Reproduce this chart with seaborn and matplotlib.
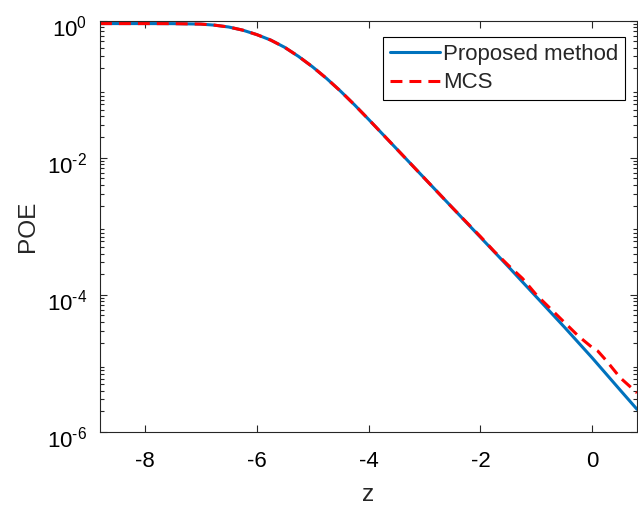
import matplotlib
matplotlib.use("Agg")
import matplotlib.pyplot as plt
import matplotlib.transforms as mtransforms
import numpy as np
import pandas as pd
import seaborn as sns
from matplotlib.ticker import FixedLocator, FixedFormatter, LogLocator, NullFormatter

# Probability of exceedance curves
z_proposed = [-8.8, -8.5, -8.0, -7.5, -7.0, -6.75, -6.5, -6.25, -6.0, -5.75, -5.5,
              -5.25, -5.0, -4.75, -4.5, -4.25, -4.0, -3.5, -3.0, -2.5, -2.0, -1.5,
              -1.0, -0.5, 0.0, 0.5, 0.8]
poe_proposed = [0.902, 0.902, 0.902, 0.900, 0.887, 0.855, 0.804, 0.724, 0.624, 0.519,
                0.407, 0.299, 0.211, 0.143, 0.0933, 0.0589, 0.0363, 0.0135, 5.01e-3,
                1.86e-3, 6.92e-4, 2.57e-4, 9.33e-5, 3.39e-5, 1.20e-5, 4.07e-6, 2.14e-6]

z_mcs = [-8.8, -8.5, -8.0, -7.5, -7.0, -6.75, -6.5, -6.25, -6.0, -5.75, -5.5,
         -5.25, -5.0, -4.75, -4.5, -4.25, -4.0, -3.5, -3.0, -2.5, -2.0, -1.75, -1.5,
         -1.25, -1.0, -0.75, -0.5, -0.25, 0.0, 0.1, 0.25, 0.5, 0.8]
poe_mcs = [0.902, 0.902, 0.902, 0.900, 0.887, 0.855, 0.804, 0.724, 0.624, 0.519,
           0.407, 0.299, 0.211, 0.143, 0.0933, 0.0589, 0.0363, 0.0135, 5.01e-3,
           1.86e-3, 7.08e-4, 4.27e-4, 2.69e-4, 1.74e-4, 1.0e-4, 6.31e-5, 3.98e-5,
           2.51e-5, 1.70e-5, 1.51e-5, 1.10e-5, 6.17e-6, 3.72e-6]

series_names = ["Proposed method", "MCS"]
x_ticks = [-8, -6, -4, -2, 0]
y_ticks = [1e-6, 1e-4, 1e-2, 1e0]
y_tick_labels = [r"$\mathregular{10^{\text{-}6}}$", r"$\mathregular{10^{\text{-}4}}$",
                 r"$\mathregular{10^{\text{-}2}}$", r"$\mathregular{10^{0}}$"]

df = pd.concat([
    pd.DataFrame({"z": z_proposed, "POE": poe_proposed, "method": series_names[0]}),
    pd.DataFrame({"z": z_mcs, "POE": poe_mcs, "method": series_names[1]}),
], ignore_index=True)

sns.set_style("ticks")
plt.rcParams["font.family"] = ["Liberation Sans", "DejaVu Sans"]
plt.rcParams["mathtext.fontset"] = "custom"
plt.rcParams["mathtext.rm"] = "Liberation Sans"
plt.rcParams["axes.unicode_minus"] = False

axis_color = "#262626"
fig = plt.figure(figsize=(6.38, 5.05), dpi=100)
ax = fig.add_axes([0.1567, 0.1446, 0.8418, 0.8148])

sns.lineplot(data=df, x="z", y="POE", hue="method", style="method",
             hue_order=series_names, style_order=series_names,
             palette={series_names[0]: "#0072BD", series_names[1]: "#FF0000"},
             dashes={series_names[0]: "", series_names[1]: (3.9, 2.3)},
             linewidth=2.2, sort=False, estimator=None, ax=ax)

ax.set_yscale("log")
ax.set_xlim(-8.8, 0.8)
ax.set_ylim(1e-6, 1e0)

ax.xaxis.set_major_locator(FixedLocator(x_ticks))
ax.yaxis.set_major_locator(FixedLocator(y_ticks))
ax.yaxis.set_major_formatter(FixedFormatter(y_tick_labels))
ax.yaxis.set_minor_locator(LogLocator(base=10, subs=np.arange(2, 10), numticks=20))
ax.yaxis.set_minor_formatter(NullFormatter())

for side in ["left", "right", "top", "bottom"]:
    ax.spines[side].set_visible(True)
    ax.spines[side].set_color(axis_color)
    ax.spines[side].set_linewidth(0.8)

ax.tick_params(which="both", direction="in", top=True, right=True,
               color=axis_color, width=0.8, labelsize=16, labelcolor="black")
ax.tick_params(which="major", length=5)
ax.tick_params(which="minor", length=3)
ax.tick_params(axis="x", pad=14)
ax.tick_params(axis="y", pad=9)

ax.set_xlabel("z", fontsize=17.6, labelpad=8)
ax.set_ylabel("POE", fontsize=17.6, labelpad=6)

handles, labels = ax.get_legend_handles_labels()
leg = ax.legend(handles, labels, loc="upper right",
                bbox_to_anchor=(625 / 638, 1 - 37.3 / 505),
                bbox_transform=fig.transFigure, borderaxespad=0,
                fontsize=16, frameon=True, fancybox=False, framealpha=1,
                edgecolor="black", handlelength=2.25, handletextpad=0.15,
                labelspacing=0.33, borderpad=0.3)
leg.get_frame().set_linewidth(0.8)
for line in leg.get_lines():
    line.set_linewidth(2.2)

# Shift the power-of-ten labels slightly below their ticks
fig.canvas.draw()
shift = mtransforms.ScaledTranslation(0, -5.5 / 100, fig.dpi_scale_trans)
for lbl in ax.yaxis.get_majorticklabels():
    lbl.set_transform(lbl.get_transform() + shift)

fig.savefig("out.png", dpi=100)
